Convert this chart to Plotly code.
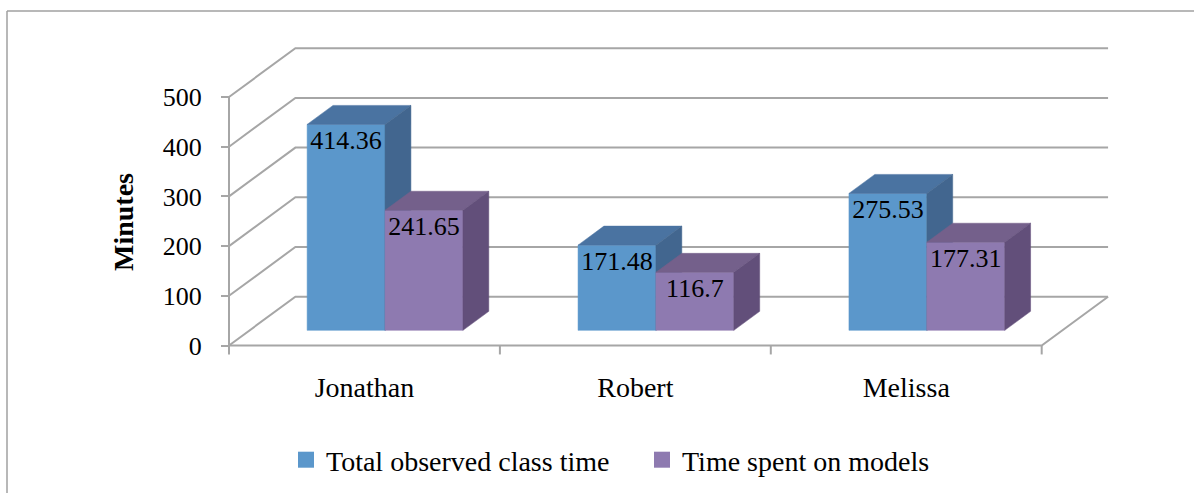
import plotly.graph_objects as go

# ---- data ----
categories = ["Jonathan", "Robert", "Melissa"]
series_names = ["Total observed class time", "Time spent on models"]
total_time = [414.36, 171.48, 275.53]
model_time = [241.65, 116.7, 177.31]
y_ticks = [0, 100, 200, 300, 400, 500]

# ---- style / projection constants ----
W, H = 1194, 493
X0_PX, Y0_PX = 229.0, 345.5       # pixel of data origin (front-left floor corner)
PX_PER_CAT = 270.9
PX_PER_VAL = 0.497
DX = 0.245                        # depth offset in category units
DY = 98.2                         # depth offset in value units
BAR_W = 0.2875
Z_FRONT, Z_BACK = 0.31, 0.70
TICK_LEN = 18.0
LABEL_DROP = 11.0                 # value units between bar top and its label

FRONT = ["#5B97CB", "#8E7AB0"]
TOP = ["#4A73A1", "#74608B"]
SIDE = ["#42668F", "#624F7A"]
GRID = "#a6a6a6"
FONT = "Liberation Serif"

x_range = [-X0_PX / PX_PER_CAT, (W - X0_PX) / PX_PER_CAT]
y_range = [-(H - Y0_PX) / PX_PER_VAL, Y0_PX / PX_PER_VAL]


def proj(cx, v, z):
    return cx + z * DX, v + z * DY


fig = go.Figure()

# ---- walls / floor gridlines ----
n = len(categories)
gx, gy = [], []
for v in y_ticks:
    for p in [(0, v, 0), (0, v, 1), (n, v, 1)]:
        x, y = proj(*p)
        gx.append(x); gy.append(y)
    gx.append(None); gy.append(None)
for p in [(0, 0, 0), (n, 0, 0), (n, 0, 1)]:
    x, y = proj(*p)
    gx.append(x); gy.append(y)
gx.append(None); gy.append(None)
# front value axis line
gx += [0, 0, None]; gy += [0, y_ticks[-1], None]
# category boundary ticks
for k in range(n + 1):
    gx += [k, k, None]; gy += [0, -TICK_LEN, None]
fig.add_trace(go.Scatter(x=gx, y=gy, mode="lines", line=dict(color=GRID, width=2),
                         hoverinfo="skip", showlegend=False))

# ---- 3D bars ----
all_series = [total_time, model_time]
lab_x, lab_y, lab_t = [], [], []
for i in range(n):
    for s, vals in enumerate(all_series):
        v = vals[i]
        x0 = i + 0.5 - BAR_W + s * BAR_W
        x1 = x0 + BAR_W
        faces = [
            ([(x0, v, Z_FRONT), (x1, v, Z_FRONT), (x1, 0, Z_FRONT), (x0, 0, Z_FRONT)], FRONT[s]),
            ([(x0, v, Z_FRONT), (x1, v, Z_FRONT), (x1, v, Z_BACK), (x0, v, Z_BACK)], TOP[s]),
            ([(x1, 0, Z_FRONT), (x1, v, Z_FRONT), (x1, v, Z_BACK), (x1, 0, Z_BACK)], SIDE[s]),
        ]
        for pts, col in faces:
            px = [proj(*p)[0] for p in pts] + [proj(*pts[0])[0]]
            py = [proj(*p)[1] for p in pts] + [proj(*pts[0])[1]]
            fig.add_trace(go.Scatter(x=px, y=py, mode="lines", fill="toself",
                                     fillcolor=col, line=dict(color=col, width=0.5),
                                     hoverinfo="skip", showlegend=False))
        cx, cy = proj((x0 + x1) / 2, v, Z_FRONT)
        lab_x.append(cx); lab_y.append(cy - LABEL_DROP); lab_t.append(f"{v:g}")

fig.add_trace(go.Scatter(x=lab_x, y=lab_y, text=lab_t, mode="text",
                         textposition="bottom center",
                         textfont=dict(family=FONT, size=26, color="black"),
                         hoverinfo="skip", showlegend=False))

# ---- legend entries ----
for s, name in enumerate(series_names):
    fig.add_trace(go.Scatter(x=[None], y=[None], mode="markers", name=name,
                             marker=dict(symbol="square", size=16, color=FRONT[s])))

# ---- border ----
bx, by = 7 / W, 1 - 11 / H
fig.add_shape(type="line", xref="paper", yref="paper", x0=bx, y0=by, x1=1, y1=by,
              line=dict(color="#a0a0a0", width=1.5))
fig.add_shape(type="line", xref="paper", yref="paper", x0=bx, y0=by, x1=bx, y1=0,
              line=dict(color="#a0a0a0", width=1.5))

fig.add_annotation(text="<b>Minutes</b>", xref="paper", yref="paper",
                   x=123 / W, y=1 - 222 / H, textangle=-90, showarrow=False,
                   xanchor="center", yanchor="middle",
                   font=dict(family=FONT, size=28, color="black"))

fig.update_layout(
    width=W, height=H, margin=dict(l=0, r=0, t=0, b=0, pad=0),
    paper_bgcolor="white", plot_bgcolor="white",
    font=dict(family=FONT, size=26, color="black"),
    xaxis=dict(range=x_range, showgrid=False, zeroline=False, showline=False,
               tickvals=[i + 0.5 for i in range(n)], ticktext=categories,
               ticks="", anchor="free", position=(H - Y0_PX) / H,
               ticklabelstandoff=22, tickfont=dict(family=FONT, size=28)),
    yaxis=dict(range=y_range, showgrid=False, zeroline=False, showline=False,
               tickvals=y_ticks, ticks="outside", ticklen=8, tickwidth=2,
               tickcolor=GRID, anchor="free", position=X0_PX / W,
               ticklabelstandoff=14, tickfont=dict(family=FONT, size=26)),
    showlegend=True,
    legend=dict(orientation="h", x=286 / W, xanchor="left", y=1 - 460 / H,
                yanchor="middle", font=dict(family=FONT, size=28),
                entrywidth=311, entrywidthmode="pixels",
                bgcolor="rgba(0,0,0,0)", borderwidth=0),
)

fig.write_html("out.html", config={"displayModeBar": False},
               post_script="document.body.style.margin='0';")
